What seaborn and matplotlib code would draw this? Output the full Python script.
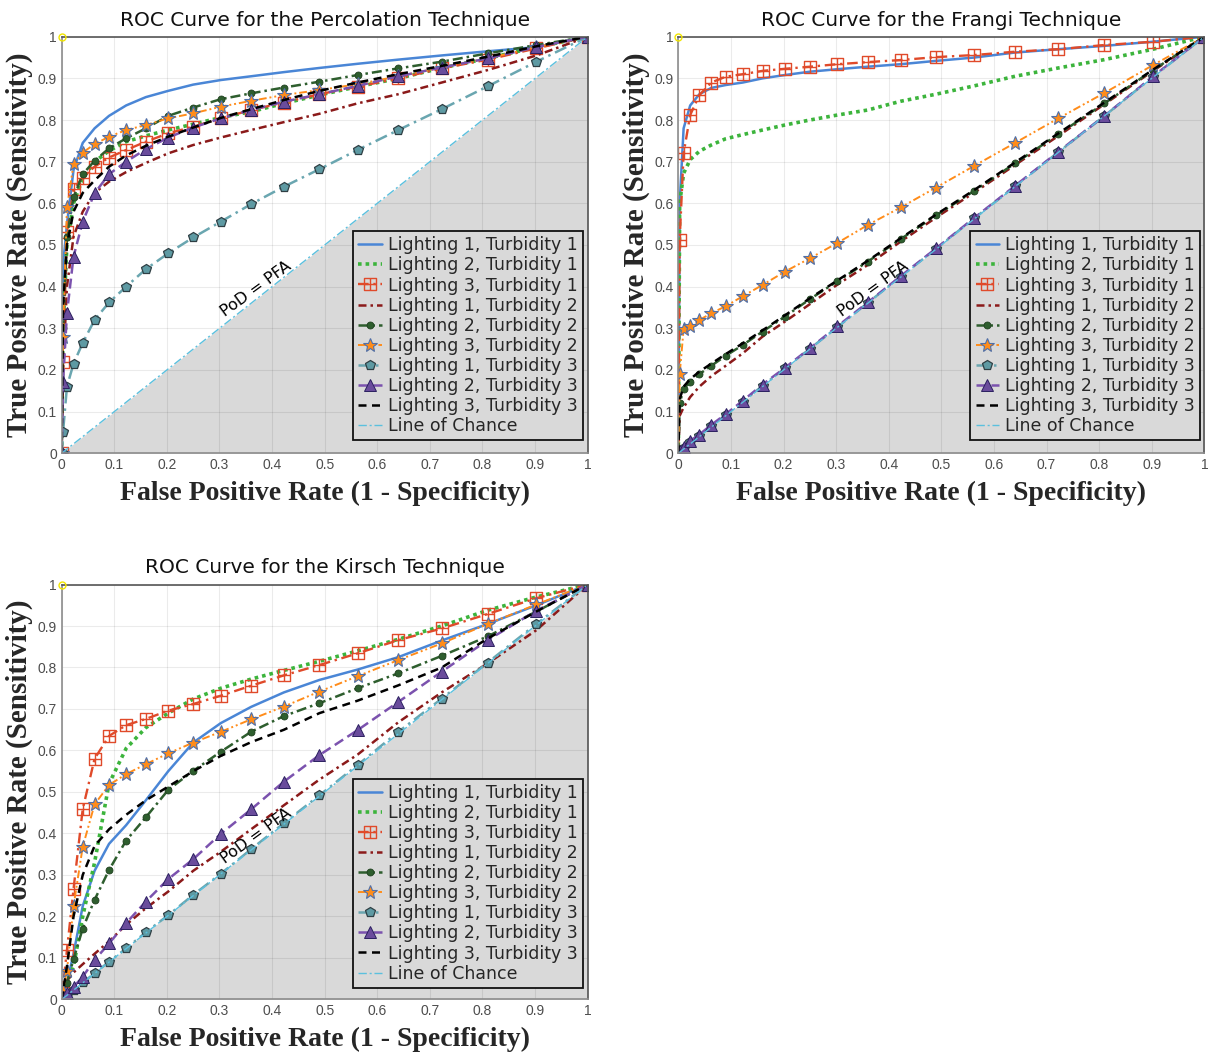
import matplotlib
matplotlib.use("Agg")
import matplotlib.pyplot as plt
from matplotlib.path import Path
import seaborn as sns
import pandas as pd

# false positive rate at the sampled thresholds (shared by every curve)
FPR = [0.0, 0.0025, 0.01, 0.0225, 0.04, 0.0625, 0.09, 0.1225, 0.16, 0.2025, 0.25,
       0.3025, 0.36, 0.4225, 0.49, 0.5625, 0.64, 0.7225, 0.81, 0.9025, 1.0]

# Percolation technique, true positive rate
PERC_L1T1 = [0, 0.45, 0.55, 0.68, 0.745, 0.78, 0.81, 0.835, 0.855, 0.87, 0.885, 0.896, 0.905, 0.915, 0.925, 0.935, 0.945, 0.955, 0.965, 0.975, 1.0]
PERC_L2T1 = [0, 0.30, 0.50, 0.60, 0.66, 0.70, 0.726, 0.748, 0.762, 0.776, 0.79, 0.806, 0.82, 0.84, 0.86, 0.88, 0.90, 0.925, 0.948, 0.975, 1.0]
PERC_L3T1 = [0, 0.22, 0.53, 0.635, 0.662, 0.688, 0.71, 0.728, 0.748, 0.768, 0.784, 0.804, 0.824, 0.842, 0.862, 0.88, 0.90, 0.924, 0.945, 0.972, 1.0]
PERC_L1T2 = [0, 0.20, 0.40, 0.52, 0.58, 0.625, 0.652, 0.675, 0.697, 0.72, 0.74, 0.758, 0.776, 0.795, 0.815, 0.84, 0.862, 0.89, 0.92, 0.955, 1.0]
PERC_L2T2 = [0, 0.30, 0.52, 0.614, 0.67, 0.702, 0.732, 0.756, 0.78, 0.81, 0.83, 0.85, 0.864, 0.878, 0.892, 0.908, 0.924, 0.94, 0.96, 0.98, 1.0]
PERC_L3T2 = [0, 0.28, 0.59, 0.694, 0.722, 0.742, 0.76, 0.776, 0.788, 0.804, 0.816, 0.832, 0.846, 0.86, 0.872, 0.886, 0.905, 0.926, 0.948, 0.975, 1.0]
PERC_L1T3 = [0, 0.05, 0.16, 0.215, 0.265, 0.32, 0.362, 0.40, 0.442, 0.48, 0.518, 0.556, 0.598, 0.64, 0.682, 0.728, 0.776, 0.826, 0.881, 0.94, 1.0]
PERC_L2T3 = [0, 0.17, 0.336, 0.472, 0.556, 0.624, 0.67, 0.70, 0.73, 0.758, 0.782, 0.804, 0.824, 0.844, 0.862, 0.882, 0.905, 0.926, 0.948, 0.975, 1.0]
PERC_L3T3 = [0, 0.35, 0.50, 0.58, 0.625, 0.655, 0.688, 0.715, 0.738, 0.76, 0.782, 0.805, 0.826, 0.848, 0.87, 0.89, 0.91, 0.93, 0.952, 0.977, 1.0]

# Frangi technique
FRAN_L1T1 = [0, 0.60, 0.78, 0.835, 0.862, 0.877, 0.884, 0.89, 0.90, 0.908, 0.916, 0.922, 0.928, 0.934, 0.942, 0.95, 0.962, 0.97, 0.978, 0.988, 1.0]
FRAN_L2T1 = [0, 0.60, 0.672, 0.705, 0.725, 0.74, 0.755, 0.765, 0.776, 0.788, 0.80, 0.812, 0.824, 0.845, 0.862, 0.882, 0.905, 0.925, 0.945, 0.97, 1.0]
FRAN_L3T1 = [0, 0.512, 0.72, 0.812, 0.86, 0.89, 0.904, 0.91, 0.918, 0.923, 0.928, 0.934, 0.939, 0.944, 0.951, 0.956, 0.964, 0.97, 0.98, 0.988, 1.0]
FRAN_L1T2 = [0, 0.09, 0.11, 0.135, 0.16, 0.185, 0.21, 0.24, 0.28, 0.316, 0.358, 0.405, 0.452, 0.508, 0.566, 0.626, 0.692, 0.762, 0.838, 0.918, 1.0]
FRAN_L2T2 = [0, 0.12, 0.154, 0.172, 0.19, 0.21, 0.234, 0.26, 0.292, 0.328, 0.37, 0.413, 0.46, 0.514, 0.571, 0.63, 0.696, 0.766, 0.84, 0.92, 1.0]
FRAN_L3T2 = [0, 0.19, 0.298, 0.305, 0.32, 0.336, 0.353, 0.377, 0.404, 0.436, 0.468, 0.505, 0.548, 0.59, 0.638, 0.69, 0.745, 0.804, 0.865, 0.932, 1.0]
FRAN_L1T3 = [0, 0.004, 0.012, 0.026, 0.042, 0.065, 0.092, 0.124, 0.162, 0.204, 0.251, 0.303, 0.361, 0.424, 0.491, 0.564, 0.641, 0.723, 0.81, 0.904, 1.0]
FRAN_L2T3 = [0, 0.005, 0.015, 0.03, 0.045, 0.068, 0.094, 0.126, 0.165, 0.205, 0.252, 0.305, 0.362, 0.425, 0.492, 0.565, 0.642, 0.724, 0.81, 0.905, 1.0]
FRAN_L3T3 = [0, 0.13, 0.16, 0.178, 0.196, 0.215, 0.238, 0.264, 0.295, 0.331, 0.372, 0.415, 0.462, 0.516, 0.573, 0.632, 0.698, 0.768, 0.842, 0.921, 1.0]

# Kirsch technique
KIRS_L1T1 = [0, 0.01, 0.04, 0.11, 0.225, 0.31, 0.375, 0.42, 0.48, 0.55, 0.619, 0.666, 0.705, 0.74, 0.77, 0.795, 0.825, 0.865, 0.905, 0.95, 1.0]
KIRS_L2T1 = [0, 0.01, 0.04, 0.08, 0.20, 0.33, 0.52, 0.605, 0.655, 0.69, 0.724, 0.75, 0.772, 0.793, 0.815, 0.84, 0.868, 0.90, 0.938, 0.97, 1.0]
KIRS_L3T1 = [0, 0.031, 0.119, 0.266, 0.459, 0.58, 0.635, 0.661, 0.676, 0.696, 0.712, 0.732, 0.756, 0.781, 0.806, 0.834, 0.866, 0.894, 0.929, 0.967, 1.0]
KIRS_L1T2 = [0, 0.02, 0.045, 0.065, 0.085, 0.11, 0.14, 0.18, 0.22, 0.26, 0.31, 0.356, 0.41, 0.468, 0.53, 0.59, 0.668, 0.74, 0.81, 0.89, 1.0]
KIRS_L2T2 = [0, 0.01, 0.04, 0.097, 0.171, 0.24, 0.312, 0.383, 0.439, 0.505, 0.551, 0.597, 0.645, 0.683, 0.714, 0.75, 0.786, 0.828, 0.875, 0.935, 1.0]
KIRS_L3T2 = [0, 0.02, 0.069, 0.225, 0.368, 0.47, 0.517, 0.543, 0.567, 0.593, 0.619, 0.645, 0.675, 0.706, 0.742, 0.779, 0.818, 0.858, 0.905, 0.952, 1.0]
KIRS_L1T3 = [0, 0.003, 0.01, 0.022, 0.041, 0.063, 0.091, 0.123, 0.162, 0.203, 0.252, 0.303, 0.362, 0.425, 0.492, 0.565, 0.645, 0.725, 0.812, 0.905, 1.0]
KIRS_L2T3 = [0, 0.005, 0.015, 0.03, 0.055, 0.095, 0.135, 0.184, 0.236, 0.29, 0.338, 0.399, 0.458, 0.525, 0.589, 0.649, 0.717, 0.79, 0.866, 0.937, 1.0]
KIRS_L3T3 = [0, 0.02, 0.08, 0.20, 0.30, 0.37, 0.41, 0.445, 0.48, 0.513, 0.55, 0.587, 0.62, 0.65, 0.69, 0.72, 0.757, 0.80, 0.87, 0.935, 1.0]

CHANCE = [0.0, 1.0]

SERIES = ["Lighting 1, Turbidity 1", "Lighting 2, Turbidity 1", "Lighting 3, Turbidity 1",
          "Lighting 1, Turbidity 2", "Lighting 2, Turbidity 2", "Lighting 3, Turbidity 2",
          "Lighting 1, Turbidity 3", "Lighting 2, Turbidity 3", "Lighting 3, Turbidity 3"]
TICKS = [0, 0.1, 0.2, 0.3, 0.4, 0.5, 0.6, 0.7, 0.8, 0.9, 1]
TICK_LABELS = ["0", "0.1", "0.2", "0.3", "0.4", "0.5", "0.6", "0.7", "0.8", "0.9", "1"]

# square with a cross inside (the "boxed plus" marker)
SQUARE_PLUS = Path(
    [(-1, -1), (1, -1), (1, 1), (-1, 1), (-1, -1), (0, -1), (0, 1), (-1, 0), (1, 0)],
    [Path.MOVETO, Path.LINETO, Path.LINETO, Path.LINETO, Path.CLOSEPOLY,
     Path.MOVETO, Path.LINETO, Path.MOVETO, Path.LINETO],
)

STYLES = [
    dict(color="#4a86d6", linestyle="-", linewidth=1.8),
    dict(color="#3cb43c", linestyle=(0, (1, 1.1)), linewidth=2.6, dash_capstyle="butt"),
    dict(color="#e04a2a", linestyle=(0, (4.5, 2, 1, 2)), linewidth=1.7,
         marker=SQUARE_PLUS, markersize=8, markerfacecolor="none",
         markeredgecolor="#e04a2a", markeredgewidth=1.0),
    dict(color="#8b1a1a", linestyle=(0, (3.2, 1.6, 1, 1.6)), linewidth=1.8),
    dict(color="#2e5e2e", linestyle=(0, (4, 1.6, 1, 1.6)), linewidth=1.8,
         marker="o", markersize=5, markerfacecolor="#2e5e2e",
         markeredgecolor="#1f3f1f", markeredgewidth=0.6),
    dict(color="#ff8c1a", linestyle=(0, (4, 1.5, 1, 1.5, 1, 1.5)), linewidth=1.4,
         marker="*", markersize=10.5, markerfacecolor="#ff8c1a",
         markeredgecolor="#4f6fa8", markeredgewidth=0.8),
    dict(color="#6aa6b0", linestyle=(0, (5, 2, 1, 2)), linewidth=1.8,
         marker="p", markersize=7, markerfacecolor="#5e9aa3",
         markeredgecolor="#2f3f44", markeredgewidth=0.9),
    dict(color="#7b52ae", linestyle=(0, (4, 2)), linewidth=1.8,
         marker="^", markersize=8.5, markerfacecolor="#6a4c9c",
         markeredgecolor="#2b2060", markeredgewidth=0.7),
    dict(color="black", linestyle=(0, (3.2, 2.2)), linewidth=1.8),
]
CHANCE_STYLE = dict(color="#5bc0de", linestyle=(0, (6, 2, 1.5, 2)), linewidth=1.0)

PANELS = [
    ("ROC Curve for the Percolation Technique", [0.0509, 0.5728, 0.434, 0.3926],
     [PERC_L1T1, PERC_L2T1, PERC_L3T1, PERC_L1T2, PERC_L2T2, PERC_L3T2, PERC_L1T3, PERC_L2T3, PERC_L3T3],
     (0.991, 0.031)),
    ("ROC Curve for the Frangi Technique", [0.5597, 0.5728, 0.434, 0.3926],
     [FRAN_L1T1, FRAN_L2T1, FRAN_L3T1, FRAN_L1T2, FRAN_L2T2, FRAN_L3T2, FRAN_L1T3, FRAN_L2T3, FRAN_L3T3],
     (0.992, 0.031)),
    ("ROC Curve for the Kirsch Technique", [0.0509, 0.0580, 0.434, 0.3911],
     [KIRS_L1T1, KIRS_L2T1, KIRS_L3T1, KIRS_L1T2, KIRS_L2T2, KIRS_L3T2, KIRS_L1T3, KIRS_L2T3, KIRS_L3T3],
     (0.991, 0.028)),
]

sns.set_style("white")
plt.rcParams["font.family"] = ["DejaVu Sans"]

fig = plt.figure(figsize=(12.12, 10.61), dpi=100)

for title, rect, curves, anchor in PANELS:
    ax = fig.add_axes(rect)
    ax.fill_between(CHANCE, 0, CHANCE, color="#d9d9d9", linewidth=0, zorder=0.2)

    handles = []
    for label, tpr, style in zip(SERIES, curves, STYLES):
        df = pd.DataFrame({"FPR": FPR, "TPR": tpr})
        sns.lineplot(data=df, x="FPR", y="TPR", ax=ax, sort=False, errorbar=None,
                     legend=False, label=label, **style)
        handles.append(ax.lines[-1])
    sns.lineplot(x=CHANCE, y=CHANCE, ax=ax, legend=False, errorbar=None,
                 label="Line of Chance", **CHANCE_STYLE)
    handles.append(ax.lines[-1])

    # small yellow ring at the perfect-classifier corner
    ax.plot([0], [1], marker="o", markersize=5, markerfacecolor="none",
            markeredgecolor="#f2e600", markeredgewidth=1, clip_on=False, zorder=5)

    ax.text(0.37, 0.395, "PoD = PFA", rotation=36, ha="center", va="center",
            fontsize=11.5, color="black")

    ax.set_xlim(0, 1)
    ax.set_ylim(0, 1)
    ax.set_xticks(TICKS)
    ax.set_xticklabels(TICK_LABELS, family="Liberation Sans")
    ax.set_yticks(TICKS)
    ax.set_yticklabels(TICK_LABELS, family="Liberation Sans")
    ax.tick_params(direction="in", length=4, width=0.8, color="#777777",
                   labelsize=10, labelcolor="#4d4d4d", pad=3.5)
    ax.grid(True, color="black", alpha=0.08, linewidth=0.8)
    ax.set_axisbelow(True)
    for side in ["top", "right"]:
        ax.spines[side].set_color("#555555")
        ax.spines[side].set_linewidth(1.2)
    for side in ["left", "bottom"]:
        ax.spines[side].set_color("#8c8c8c")
        ax.spines[side].set_linewidth(1.2)

    ax.set_title(title, fontsize=14.5, pad=8, color="#111111")
    ax.set_xlabel("False Positive Rate (1 - Specificity)", family="Liberation Serif",
                  fontweight="bold", fontsize=20, labelpad=6)
    ax.set_ylabel("True Positive Rate (Sensitivity)", family="Liberation Serif",
                  fontweight="bold", fontsize=21, labelpad=3)

    leg = ax.legend(handles=handles, loc="lower right", bbox_to_anchor=anchor,
                    borderaxespad=0, fontsize=12.5, frameon=True, fancybox=False,
                    facecolor="#d9d9d9", edgecolor="#111111", framealpha=1,
                    handlelength=1.35, handletextpad=0.35, labelspacing=0.12,
                    borderpad=0.3)
    leg.get_frame().set_linewidth(1.3)

fig.savefig("out.png", dpi=100)
